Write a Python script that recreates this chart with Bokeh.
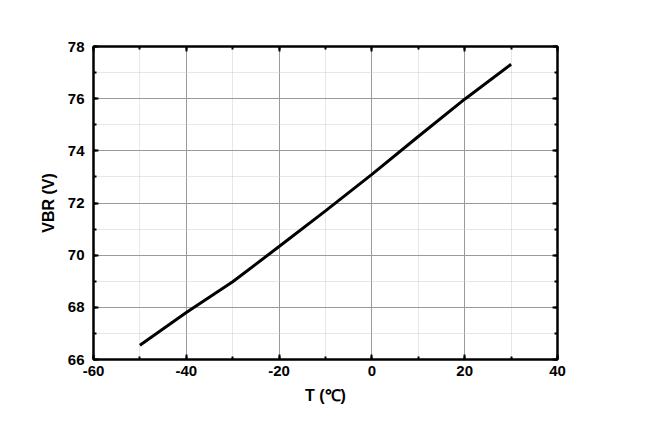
from bokeh.plotting import figure
from bokeh.models import LinearAxis, SingleIntervalTicker, Range1d, Grid, PrintfTickFormatter
from bokeh.embed import file_html
from bokeh.resources import INLINE

temperature = [-50, -40, -30, -20, -10, 0, 10, 20, 30]
vbr = [66.55, 67.8, 68.98, 70.33, 71.7, 73.1, 74.55, 75.98, 77.32]

FONT = "Liberation Sans"

p = figure(width=638, height=419, output_backend="svg", toolbar_location=None,
           x_range=Range1d(-60, 40), y_range=Range1d(66, 78),
           x_axis_type=None, y_axis_type=None,
           min_border_left=93, min_border_right=81, min_border_top=46, min_border_bottom=60)
p.background_fill_color = "white"
p.border_fill_color = "white"
p.outline_line_color = "black"
p.outline_line_width = 2


def make_axis(ticker, show_labels, label=None):
    ax = LinearAxis(ticker=ticker, formatter=PrintfTickFormatter(format="%d"))
    ax.axis_line_color = "black"
    ax.axis_line_width = 2
    ax.major_tick_in = 5
    ax.major_tick_out = 0
    ax.minor_tick_in = 3
    ax.minor_tick_out = 0
    ax.major_tick_line_color = "black"
    ax.major_tick_line_width = 2
    ax.minor_tick_line_color = "black"
    ax.minor_tick_line_width = 2
    ax.major_label_text_font = FONT
    ax.major_label_text_font_style = "bold"
    ax.major_label_text_font_size = "15px"
    ax.major_label_text_color = "black"
    if not show_labels:
        ax.major_label_text_alpha = 0
        ax.major_label_text_font_size = "1px"
    if label:
        ax.axis_label = label
        ax.axis_label_text_font = FONT
        ax.axis_label_text_font_style = "bold"
        ax.axis_label_text_font_size = "16px"
        ax.axis_label_text_color = "black"
    return ax


xt = SingleIntervalTicker(interval=20, num_minor_ticks=2)
yt = SingleIntervalTicker(interval=2, num_minor_ticks=2)

xb = make_axis(xt, True, "T (℃)")
xb.major_label_standoff = 6
xb.axis_label_standoff = 8
p.add_layout(xb, "below")
yl = make_axis(yt, True, "VBR (V)")
yl.major_label_standoff = 9
yl.axis_label_standoff = 8
p.add_layout(yl, "left")
p.add_layout(make_axis(SingleIntervalTicker(interval=20, num_minor_ticks=2), False), "above")
p.add_layout(make_axis(SingleIntervalTicker(interval=2, num_minor_ticks=2), False), "right")

for dim, tk in ((0, xt), (1, yt)):
    g = Grid(dimension=dim, ticker=tk)
    g.grid_line_color = "#9a9a9a"
    g.grid_line_width = 1
    g.minor_grid_line_color = "#cfcfcf"
    g.minor_grid_line_dash = "1 1"
    g.minor_grid_line_width = 1
    p.add_layout(g)

p.line(temperature, vbr, line_color="black", line_width=3)

open("out.html", "w").write(file_html(p, INLINE))
